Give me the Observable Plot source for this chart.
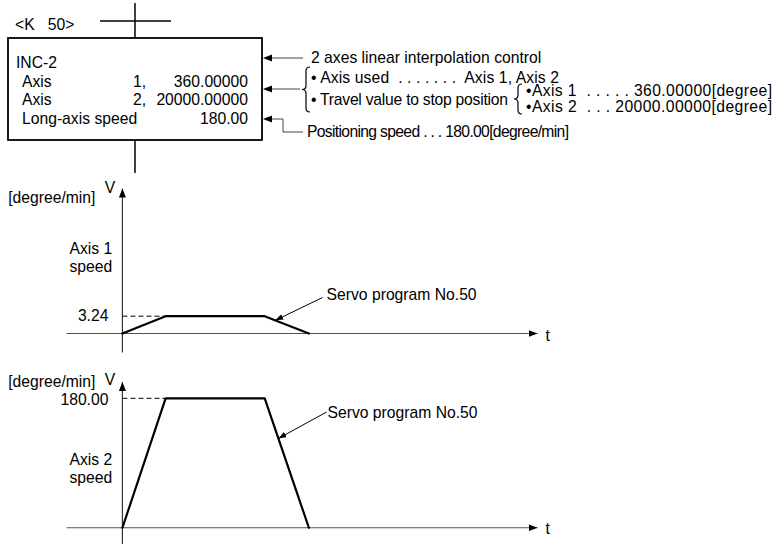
<!DOCTYPE html>
<html><head><meta charset="utf-8">
<script src="https://cdn.jsdelivr.net/npm/d3@7"></script>
<script src="https://cdn.jsdelivr.net/npm/@observablehq/plot@0.6"></script>
<style>
html,body{margin:0;padding:0;background:#fff;}
#root{position:relative;width:780px;height:544px;overflow:hidden;font-family:"Liberation Sans",Arial,sans-serif;}
#root > svg{position:absolute;left:0;}
</style></head><body><div id="root"></div>
<script>
// ---- program listing (text content) ----
const programHeader = "<K   50>";
const programCommand = "INC-2";
const programAxisNames = ["Axis", "Axis"];
const programAxisNumbers = ["1,", "2,"];
const programAxisValues = ["360.00000", "20000.00000"];
const programSpeedLabel = "Long-axis speed";
const programSpeedValue = "180.00";
const noteControl = "2 axes linear interpolation control";
const noteAxesUsed = "• Axis used  . . . . . . .  Axis 1, Axis 2";
const noteTravel = "• Travel value to stop position";
const noteTravelItems = ["•Axis 1  . . . . . 360.00000[degree]", "•Axis 2  . . . 20000.00000[degree]"];
const noteSpeed = "Positioning speed . . . 180.00[degree/min]";

// ---- speed profiles (schematic time units) ----
const time = [0, 0.44, 1.45, 1.9];
const axis1Speed = [0, 3.24, 3.24, 0];
const axis2Speed = [0, 180, 180, 0];
const speedUnit = "[degree/min]";
const axisLabels = ["Axis 1\nspeed", "Axis 2\nspeed"];
const servoLabel = "Servo program No.50";

const FONT = '"Liberation Sans", Arial, sans-serif';
const FS = 15.7;
const root = d3.select("#root");

// ---------- top diagram ----------
const topSvg = root.append("svg").attr("width", 780).attr("height", 180).style("top", "0px")
  .attr("font-family", FONT).attr("font-size", FS);
function line(g, pts, stroke = "#000", w = 1.5) {
  g.append("path").attr("d", "M" + pts.map(p => p.join(",")).join("L"))
    .attr("fill", "none").attr("stroke", stroke).attr("stroke-width", w);
}
function headLeft(g, x, y, len = 9, half = 3.5) {
  g.append("path").attr("d", `M${x},${y}L${x + len},${y - half}L${x + len},${y + half}Z`).attr("fill", "#000");
}
function brace(g, xTip, xEnd, y0, y1) {
  const ym = (y0 + y1) / 2, xm = (xTip + xEnd) / 2, r = 4;
  g.append("path").attr("d",
    `M${xEnd},${y0}Q${xm},${y0} ${xm},${y0 + r}L${xm},${ym - r}Q${xm},${ym} ${xTip},${ym}` +
    `Q${xm},${ym} ${xm},${ym + r}L${xm},${y1 - r}Q${xm},${y1} ${xEnd},${y1}`)
    .attr("fill", "none").attr("stroke", "#000").attr("stroke-width", 1.2);
}
function text(g, s, x, y, anchor = "start", len = null, adjust = "spacing") {
  const t = g.append("text").attr("x", x).attr("y", y).attr("dy", "0.35em").attr("text-anchor", anchor)
    .style("white-space", "pre").text(s);
  if (len) t.attr("textLength", len).attr("lengthAdjust", adjust);
}
line(topSvg, [[135, 3], [135, 38]]);
line(topSvg, [[100, 21], [171, 21]]);
line(topSvg, [[135, 140], [135, 173]]);
topSvg.append("rect").attr("x", 8).attr("y", 38).attr("width", 254).attr("height", 102)
  .attr("fill", "none").attr("stroke", "#000").attr("stroke-width", 1.8);
text(topSvg, programHeader, 15, 25);
text(topSvg, programCommand, 16, 63);
const rowY = [81.5, 100];
rowY.forEach((y, i) => {
  text(topSvg, programAxisNames[i], 22, y);
  text(topSvg, programAxisNumbers[i], 133, y);
  text(topSvg, programAxisValues[i], 248, y, "end");
});
text(topSvg, programSpeedLabel, 22, 119);
text(topSvg, programSpeedValue, 248, 119, "end");

// right-hand notes
line(topSvg, [[265, 58], [303, 58]], "#444", 1);
headLeft(topSvg, 263, 58);
text(topSvg, noteControl, 311, 58);
line(topSvg, [[265, 89], [300, 89]], "#444", 1);
headLeft(topSvg, 263, 89);
brace(topSvg, 302, 310, 67, 112);
text(topSvg, noteAxesUsed, 311, 78, "start", 248);
text(topSvg, noteTravel, 311, 100, "start", 197);
brace(topSvg, 514, 522, 84, 114);
text(topSvg, noteTravelItems[0], 526, 91, "start", 246);
text(topSvg, noteTravelItems[1], 526, 107, "start", 246);
line(topSvg, [[265, 119], [283, 119], [283, 132], [303, 132]], "#444", 1);
headLeft(topSvg, 263, 119);
text(topSvg, noteSpeed, 307, 132, "start", 262);

// ---------- speed graphs ----------
const xDomain = [-0.57, 4.23];
function speedGraph(id, speeds, cfg) {
  const profile = time.map((t, i) => ({t, v: speeds[i]}));
  const vmax = d3.max(speeds);
  const [x0, x1] = xDomain;
  const [y0, y1] = cfg.yDomain;
  const f = cfg.leaderFrac;
  const tip = {t: time[2] + f * (time[3] - time[2]), v: vmax * (1 - f)};
  const tail = cfg.tail;
  const plot = Plot.plot({
    width: 780, height: cfg.height,
    marginLeft: 66, marginRight: 243, marginTop: cfg.marginTop, marginBottom: cfg.marginBottom,
    x: {domain: xDomain, axis: null},
    y: {domain: cfg.yDomain, axis: null},
    style: {fontFamily: FONT, fontSize: FS + "px", background: "transparent", overflow: "visible", color: "#000"},
    marks: [
      Plot.link([0], {x1: () => x0, x2: () => x1, y1: () => 0, y2: () => 0, stroke: "#555", strokeWidth: 1.2}),
      Plot.link([0], {x1: () => 0, x2: () => 0, y1: () => y0, y2: () => y1, stroke: "#333", strokeWidth: 1.2}),
      Plot.link([vmax], {x1: () => 0, x2: () => time[1], y1: d => d, y2: d => d, stroke: "#000", strokeWidth: 1, strokeDasharray: "5,3"}),
      Plot.line(profile, {x: "t", y: "v", stroke: "#000", strokeWidth: 2.2}),
      Plot.link([tip], {x1: () => tail.t, y1: () => tail.v, x2: d => d.t, y2: d => d.v, stroke: "#000", strokeWidth: 1}),
      Plot.text([vmax], {x: () => 0, y: d => d, text: d => d.toFixed(2), dx: -14, dy: cfg.valueDy, textAnchor: "end"}),
      Plot.text(["V"], {x: () => 0, y: () => y1, text: d => d, dx: -12.5, dy: cfg.vDy, textAnchor: "middle"}),
      Plot.text([speedUnit], {x: () => 0, y: () => y1, text: d => d, dx: -27, dy: cfg.unitDy, textAnchor: "end"}),
      Plot.text([cfg.label], {x: () => 0, y: () => 0, text: d => d, dx: -53, dy: cfg.labelDy, textAnchor: "start", lineHeight: 1.15}),
      Plot.text(["t"], {x: () => x1, y: () => 0, text: d => d, dx: 8, dy: cfg.tDy, textAnchor: "start"}),
      Plot.text([servoLabel], {x: () => tail.t, y: () => tail.v, text: d => d, dx: cfg.servoDx, dy: cfg.servoDy, textAnchor: "start"})
    ]
  });
  const svg = d3.select(plot);
  const defs = svg.insert("defs", ":first-child");
  const mk = (name, len, half) => {
    defs.append("marker").attr("id", id + name).attr("markerUnits", "userSpaceOnUse")
      .attr("markerWidth", len).attr("markerHeight", half * 2).attr("refX", len).attr("refY", half)
      .attr("orient", "auto").attr("viewBox", `0 0 ${len} ${half * 2}`)
      .append("path").attr("d", `M0,0L${len},${half}L0,${half * 2}Z`).attr("fill", "#000");
  };
  mk("big", 9, 3.5);
  mk("small", 8, 3);
  const links = svg.selectAll('g[aria-label="link"]').nodes();
  d3.select(links[0]).selectAll("path").attr("marker-end", `url(#${id}big)`);
  d3.select(links[1]).selectAll("path").attr("marker-end", `url(#${id}big)`);
  d3.select(links[3]).selectAll("path").attr("marker-end", `url(#${id}small)`);
  plot.style.position = "absolute";
  plot.style.left = "0px";
  plot.style.top = cfg.top + "px";
  root.node().appendChild(plot);
}

speedGraph("g1", axis1Speed, {
  top: 180, height: 180, marginTop: 8, marginBottom: 8, yDomain: [-3.56, 27.15],
  label: axisLabels[0], labelDy: -76, unitDy: 9, vDy: -1, valueDy: 0, tDy: 2,
  leaderFrac: 0.24, tail: {t: 2.04, v: 6.74}, servoDx: 4, servoDy: -3
});
speedGraph("g2", axis2Speed, {
  top: 364, height: 180, marginTop: 17.5, marginBottom: 0, yDomain: [-23.3, 202.7],
  label: axisLabels[1], labelDy: -60, unitDy: 0, vDy: -2.5, valueDy: 2, tDy: 1,
  leaderFrac: 0.31, tail: {t: 2.08, v: 160.9}, servoDx: 1, servoDy: 1
});
</script></body></html>
